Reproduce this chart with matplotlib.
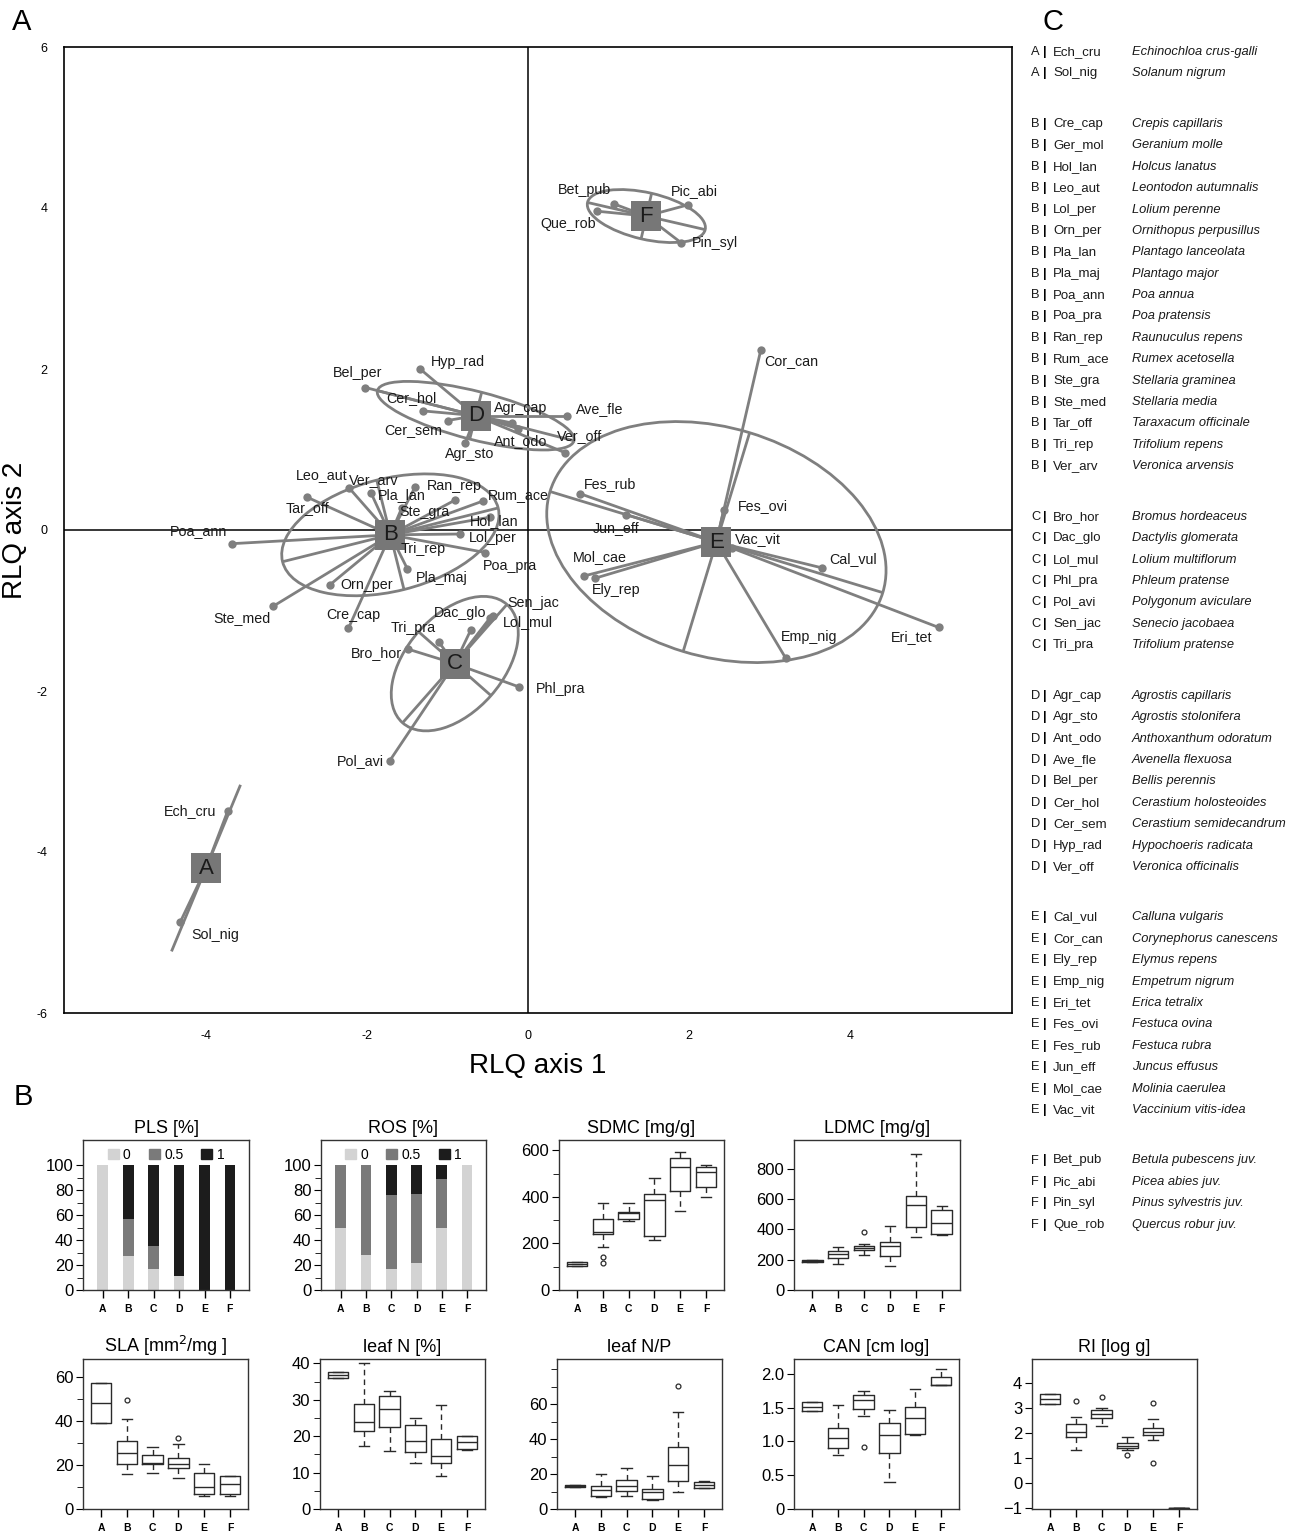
import matplotlib
matplotlib.use("Agg")
import matplotlib.pyplot as plt
from matplotlib.patches import Ellipse, Patch
import numpy as np

plt.rcParams['font.family'] = ['Liberation Sans', 'DejaVu Sans']

W, H = 1296, 1531

# ---------------- ordination data (panel A) ----------------
grp_names = ['A', 'B', 'C', 'D', 'E', 'F']
grp_x = [-4.00, -1.71, -0.91, -0.65, 2.34, 1.47]
grp_y = [-4.20, -0.06, -1.66, 1.42, -0.15, 3.90]
ell_a = [1.12, 1.38, 0.98, 1.26, 2.16, 0.75]
ell_b = [0.00, 0.70, 0.60, 0.30, 1.42, 0.29]
ell_angle = [67.5, 14.0, 48.6, -14.3, -16.9, -13.0]

spp_code = ['Ech_cru', 'Sol_nig',
            'Poa_ann', 'Ste_med', 'Tar_off', 'Leo_aut', 'Ver_arv', 'Pla_lan', 'Ran_rep',
            'Rum_ace', 'Ste_gra', 'Hol_lan', 'Lol_per', 'Tri_rep', 'Poa_pra', 'Pla_maj',
            'Orn_per', 'Cre_cap',
            'Bro_hor', 'Dac_glo', 'Lol_mul', 'Phl_pra', 'Pol_avi', 'Sen_jac', 'Tri_pra',
            'Agr_cap', 'Agr_sto', 'Ant_odo', 'Ave_fle', 'Bel_per', 'Cer_hol', 'Cer_sem',
            'Hyp_rad', 'Ver_off',
            'Cal_vul', 'Cor_can', 'Ely_rep', 'Emp_nig', 'Eri_tet', 'Fes_ovi', 'Fes_rub',
            'Jun_eff', 'Mol_cae', 'Vac_vit',
            'Bet_pub', 'Pic_abi', 'Pin_syl', 'Que_rob']
spp_group = (['A'] * 2 + ['B'] * 16 + ['C'] * 7 + ['D'] * 9 + ['E'] * 10 + ['F'] * 4)
spp_x = [-3.73, -4.32,
         -3.68, -3.17, -2.75, -2.22, -1.95, -1.40, -0.91,
         -0.56, -1.57, -0.47, -0.84, -1.59, -0.53, -1.50,
         -2.46, -2.23,
         -1.49, -0.71, -0.47, -0.11, -1.72, -0.43, -1.11,
         -0.20, -0.78, -0.13, 0.48, -2.02, -1.31, -1.00,
         -1.34, 0.46,
         3.65, 2.89, 0.83, 3.20, 5.10, 2.43, 0.65,
         1.22, 0.70, 2.53,
         1.07, 1.99, 1.90, 0.86]
spp_y = [-3.49, -4.87,
         -0.17, -0.95, 0.41, 0.52, 0.46, 0.54, 0.37,
         0.36, 0.27, 0.16, -0.05, -0.15, -0.28, -0.48,
         -0.68, -1.22,
         -1.48, -1.24, -1.09, -1.95, -2.87, -1.07, -1.39,
         1.33, 1.08, 1.26, 1.42, 1.77, 1.48, 1.36,
         2.00, 0.96,
         -0.47, 2.23, -0.60, -1.59, -1.21, 0.25, 0.45,
         0.19, -0.57, -0.22,
         4.05, 4.04, 3.57, 3.96]

# label offsets (pixels, styling only)
lab_off = {
    'Ech_cru': (-38, 0), 'Sol_nig': (35, -13),
    'Poa_ann': (-33, 13), 'Ste_med': (-31, -12), 'Tar_off': (1, -11), 'Leo_aut': (-28, 13),
    'Ver_arv': (3, 13), 'Pla_lan': (-14, -8), 'Ran_rep': (0, 14), 'Rum_ace': (35, 6),
    'Ste_gra': (23, -4), 'Hol_lan': (4, -4), 'Lol_per': (32, -4), 'Tri_rep': (23, -7),
    'Poa_pra': (25, -13), 'Pla_maj': (34, -9), 'Orn_per': (37, 0), 'Cre_cap': (5, 13),
    'Bro_hor': (-32, -4), 'Dac_glo': (-11, 17), 'Lol_mul': (38, -4), 'Phl_pra': (41, -2),
    'Pol_avi': (-29, 0), 'Sen_jac': (40, 13), 'Tri_pra': (-25, 14),
    'Agr_cap': (9, 15), 'Agr_sto': (4, -11), 'Ant_odo': (3, -12), 'Ave_fle': (33, 7),
    'Bel_per': (-8, 15), 'Cer_hol': (-11, 13), 'Cer_sem': (-34, -9), 'Hyp_rad': (38, 7),
    'Ver_off': (15, 17),
    'Cal_vul': (31, 9), 'Cor_can': (31, -11), 'Ely_rep': (21, -12), 'Emp_nig': (23, 21),
    'Eri_tet': (-27, -10), 'Fes_ovi': (39, 4), 'Fes_rub': (30, 10), 'Jun_eff': (-10, -13),
    'Mol_cae': (16, 19), 'Vac_vit': (26, 9),
    'Bet_pub': (-30, 14), 'Pic_abi': (6, 14), 'Pin_syl': (34, 0), 'Que_rob': (-29, -13),
}

# ---------------- species list (panel C) ----------------
list_group = (['A'] * 2 + ['B'] * 17 + ['C'] * 7 + ['D'] * 9 + ['E'] * 10 + ['F'] * 4)
list_code = ['Ech_cru', 'Sol_nig',
             'Cre_cap', 'Ger_mol', 'Hol_lan', 'Leo_aut', 'Lol_per', 'Orn_per', 'Pla_lan',
             'Pla_maj', 'Poa_ann', 'Poa_pra', 'Ran_rep', 'Rum_ace', 'Ste_gra', 'Ste_med',
             'Tar_off', 'Tri_rep', 'Ver_arv',
             'Bro_hor', 'Dac_glo', 'Lol_mul', 'Phl_pra', 'Pol_avi', 'Sen_jac', 'Tri_pra',
             'Agr_cap', 'Agr_sto', 'Ant_odo', 'Ave_fle', 'Bel_per', 'Cer_hol', 'Cer_sem',
             'Hyp_rad', 'Ver_off',
             'Cal_vul', 'Cor_can', 'Ely_rep', 'Emp_nig', 'Eri_tet', 'Fes_ovi', 'Fes_rub',
             'Jun_eff', 'Mol_cae', 'Vac_vit',
             'Bet_pub', 'Pic_abi', 'Pin_syl', 'Que_rob']
list_name = ['Echinochloa crus-galli', 'Solanum nigrum',
             'Crepis capillaris', 'Geranium molle', 'Holcus lanatus', 'Leontodon autumnalis',
             'Lolium perenne', 'Ornithopus perpusillus', 'Plantago lanceolata', 'Plantago major',
             'Poa annua', 'Poa pratensis', 'Raunuculus repens', 'Rumex acetosella',
             'Stellaria graminea', 'Stellaria media', 'Taraxacum officinale', 'Trifolium repens',
             'Veronica arvensis',
             'Bromus hordeaceus', 'Dactylis glomerata', 'Lolium multiflorum', 'Phleum pratense',
             'Polygonum aviculare', 'Senecio jacobaea', 'Trifolium pratense',
             'Agrostis capillaris', 'Agrostis stolonifera', 'Anthoxanthum odoratum',
             'Avenella flexuosa', 'Bellis perennis', 'Cerastium holosteoides',
             'Cerastium semidecandrum', 'Hypochoeris radicata', 'Veronica officinalis',
             'Calluna vulgaris', 'Corynephorus canescens', 'Elymus repens', 'Empetrum nigrum',
             'Erica tetralix', 'Festuca ovina', 'Festuca rubra', 'Juncus effusus',
             'Molinia caerulea', 'Vaccinium vitis-idea',
             'Betula pubescens juv.', 'Picea abies juv.', 'Pinus sylvestris juv.',
             'Quercus robur juv.']

# ---------------- trait data (panel B) ----------------
groups = ['A', 'B', 'C', 'D', 'E', 'F']
pls_0 = [100, 27, 17, 11, 0, 0]
pls_05 = [0, 30, 18, 0, 0, 0]
pls_1 = [0, 43, 65, 89, 100, 100]
ros_0 = [50, 28, 17, 22, 50, 100]
ros_05 = [50, 72, 59, 55, 39, 0]
ros_1 = [0, 0, 24, 23, 11, 0]

sdmc_lo = [103, 183, 296, 215, 339, 398]
sdmc_q1 = [103, 241, 304, 233, 425, 445]
sdmc_med = [112, 251, 329, 387, 530, 506]
sdmc_q3 = [122, 304, 335, 411, 569, 527]
sdmc_hi = [122, 375, 375, 483, 593, 536]
sdmc_out = [[], [143, 117], [], [], [], []]

ldmc_lo = [186, 172, 234, 161, 353, 366]
ldmc_q1 = [188, 209, 262, 224, 413, 370]
ldmc_med = [193, 237, 277, 290, 563, 441]
ldmc_q3 = [198, 256, 290, 320, 621, 531]
ldmc_hi = [200, 284, 305, 421, 897, 553]
ldmc_out = [[], [], [385], [], [], []]

sla_lo = [39.1, 15.8, 16.4, 14.0, 5.8, 5.8]
sla_q1 = [39.1, 20.3, 20.4, 18.4, 7.0, 6.6]
sla_med = [47.9, 25.5, 20.7, 20.3, 9.9, 11.5]
sla_q3 = [56.9, 30.7, 24.6, 23.1, 16.3, 15.1]
sla_hi = [56.9, 40.9, 28.2, 29.3, 20.4, 15.1]
sla_out = [[], [49.4], [], [32.2], [], []]

leafn_lo = [36.0, 17.3, 15.8, 12.7, 9.2, 16.3]
leafn_q1 = [36.0, 21.3, 22.5, 15.6, 12.7, 16.5]
leafn_med = [36.7, 23.8, 27.6, 18.7, 14.6, 18.3]
leafn_q3 = [37.5, 28.9, 31.1, 23.2, 19.1, 20.0]
leafn_hi = [37.5, 40.0, 32.4, 25.1, 28.5, 20.0]
leafn_out = [[], [], [], [], [], []]

np_lo = [12.5, 6.9, 7.6, 5.4, 9.6, 12.0]
np_q1 = [12.5, 7.3, 10.5, 5.9, 15.9, 12.0]
np_med = [13.2, 10.7, 13.0, 9.6, 25.4, 13.8]
np_q3 = [14.0, 13.0, 16.4, 11.5, 35.5, 15.5]
np_hi = [14.0, 19.9, 23.5, 18.9, 55.8, 16.2]
np_out = [[], [], [], [], [70.7], []]

can_lo = [1.446, 0.80, 1.38, 0.40, 1.088, 1.838]
can_q1 = [1.446, 0.897, 1.485, 0.833, 1.108, 1.838]
can_med = [1.515, 1.044, 1.62, 1.10, 1.348, 1.838]
can_q3 = [1.588, 1.196, 1.686, 1.27, 1.51, 1.96]
can_hi = [1.588, 1.54, 1.75, 1.46, 1.78, 2.07]
can_out = [[], [], [0.917], [], [], []]

ri_lo = [3.16, 1.32, 2.29, 1.33, 1.75, -1.0]
ri_q1 = [3.16, 1.87, 2.60, 1.43, 1.93, -1.0]
ri_med = [3.36, 2.07, 2.77, 1.51, 2.04, -1.0]
ri_q3 = [3.56, 2.36, 2.93, 1.60, 2.20, -1.0]
ri_hi = [3.56, 2.67, 3.03, 1.87, 2.56, -1.0]
ri_out = [[], [3.28], [3.44], [1.13], [3.2, 0.83], []]

# ---------------- figure ----------------
fig = plt.figure(figsize=(W / 100, H / 100), dpi=100)


def pax(l, t, r, b):
    return fig.add_axes([l / W, 1 - b / H, (r - l) / W, (b - t) / H])


GRAY = '#7f7f7f'
SQ = '#777777'

ax = pax(64, 47, 1012, 1013)
ax.set_xlim(-5.764, 6.012)
ax.set_ylim(-6, 6)
ax.axhline(0, color='black', lw=1.1, zorder=1)
ax.axvline(0, color='black', lw=1.1, zorder=1)

gx = dict(zip(grp_names, grp_x))
gy = dict(zip(grp_names, grp_y))

# ellipses and their axes
for g, cx, cy, a, b, ang in zip(grp_names, grp_x, grp_y, ell_a, ell_b, ell_angle):
    t = np.deg2rad(ang)
    ux, uy = np.cos(t), np.sin(t)
    vx, vy = -np.sin(t), np.cos(t)
    if b > 0:
        ax.add_patch(Ellipse((cx, cy), 2 * a, 2 * b, angle=ang, fill=False,
                             ec=GRAY, lw=2.0, zorder=2))
    ax.plot([cx - a * ux, cx + a * ux], [cy - a * uy, cy + a * uy], color=GRAY, lw=2.0,
            zorder=2, solid_capstyle='butt')
    if b > 0:
        ax.plot([cx - b * vx, cx + b * vx], [cy - b * vy, cy + b * vy], color=GRAY, lw=2.0,
                zorder=2, solid_capstyle='butt')

# species segments and points
for code, g, x, y in zip(spp_code, spp_group, spp_x, spp_y):
    ax.plot([gx[g], x], [gy[g], y], color=GRAY, lw=2.0, zorder=3)
ax.scatter(spp_x, spp_y, s=36, color=GRAY, zorder=4, linewidths=0)
for code, x, y in zip(spp_code, spp_x, spp_y):
    dx, dy = lab_off.get(code, (0, 10))
    ax.annotate(code, (x, y), xytext=(dx, dy), textcoords='offset pixels',
                ha='center', va='center', fontsize=10.3, color='#1a1a1a', zorder=6)

# group squares
ax.scatter(grp_x, grp_y, marker='s', s=21 ** 2, color=SQ, zorder=5, linewidths=0)
for g, x, y in zip(grp_names, grp_x, grp_y):
    ax.text(x, y, g, ha='center', va='center', fontsize=16, color='#1a1a1a', zorder=6)

ax.set_xticks([-4, -2, 0, 2, 4])
ax.set_xticklabels(['-4', '-2', '0', '2', '4'])
ax.set_yticks([-6, -4, -2, 0, 2, 4, 6])
ax.set_yticklabels(['-6', '-4', '-2', '0', '2', '4', '6'])
ax.tick_params(length=0, labelsize=9, pad=12)
for s in ax.spines.values():
    s.set_linewidth(1.2)
ax.set_xlabel('RLQ axis 1', fontsize=20, labelpad=8)
ax.set_ylabel('RLQ axis 2', fontsize=20, labelpad=6)

# panel letters
fig.text(12 / W, 1 - 22 / H, 'A', fontsize=21, va='center', ha='left')
fig.text(14 / W, 1 - 1097 / H, 'B', fontsize=21, va='center', ha='left')
fig.text(1042 / W, 1 - 22 / H, 'C', fontsize=21, va='center', ha='left')

# ---------------- panel C list ----------------
row = 0
prev = None
gi = -1
for g, code, name in zip(list_group, list_code, list_name):
    if g != prev:
        gi += 1
        prev = g
    y = 52 + 21.4 * row + gi * 29.1
    row += 1
    fy = 1 - y / H
    fig.text(1031 / W, fy, g, fontsize=9.3, va='center', ha='left', color='#1a1a1a')
    fig.text(1043 / W, fy, '|', fontsize=9.3, va='center', ha='left', fontweight='bold')
    fig.text(1053 / W, fy, code, fontsize=9.5, va='center', ha='left', color='#1a1a1a')
    fig.text(1132 / W, fy, name, fontsize=9.3, va='center', ha='left', style='italic',
             color='#1a1a1a')

# ---------------- panel B ----------------
pos = np.arange(1, 7)


def style_small(a, title):
    a.set_title(title, fontsize=13, pad=5)
    a.set_xticks(pos)
    a.set_xticklabels(groups, fontsize=7.5, fontweight='bold')
    a.tick_params(axis='x', length=6, width=1, pad=4)
    a.tick_params(axis='y', which='major', length=5, labelsize=12, pad=2)
    a.tick_params(axis='y', which='minor', length=4)
    for s in a.spines.values():
        s.set_linewidth(1.0)
        s.set_color('#333333')


def bars(a, v0, v05, v1, title):
    c0, c05, c1 = '#d3d3d3', '#7a7a7a', '#1c1c1c'
    a.bar(pos, v0, width=0.42, color=c0)
    a.bar(pos, v05, width=0.42, bottom=v0, color=c05)
    a.bar(pos, v1, width=0.42, bottom=np.add(v0, v05), color=c1)
    a.set_xlim(0.22, 6.75)
    a.set_ylim(0, 120)
    a.set_yticks([0, 20, 40, 60, 80, 100])
    a.set_yticks([10, 30, 50, 70, 90], minor=True)
    style_small(a, title)
    a.legend(handles=[Patch(color=c0), Patch(color=c05), Patch(color=c1)],
             labels=['0', '0.5', '1'], loc='upper center', ncol=3, frameon=False,
             fontsize=10, handlelength=0.8, handleheight=0.8, handletextpad=0.3,
             columnspacing=1.3, borderaxespad=0.15)


def boxes(a, lo, q1, med, q3, hi, out, title, ylim, ticks, minor=None, labels=None):
    stats = []
    for i in range(6):
        stats.append(dict(whislo=lo[i], q1=q1[i], med=med[i], q3=q3[i], whishi=hi[i],
                          fliers=out[i]))
    ec = '#2a2a2a'
    a.bxp(stats, positions=pos, widths=0.8, capwidths=0.4, showfliers=True,
          boxprops=dict(color=ec, lw=1.0),
          whiskerprops=dict(color=ec, lw=1.0, linestyle=(0, (4, 3))),
          capprops=dict(color=ec, lw=1.0),
          medianprops=dict(color=ec, lw=1.0),
          flierprops=dict(marker='o', markerfacecolor='none', markeredgecolor=ec,
                          markersize=3.5, markeredgewidth=0.9))
    a.set_xlim(0.3, 6.7)
    a.set_ylim(*ylim)
    a.set_yticks(ticks)
    if labels is not None:
        a.set_yticklabels(labels)
    if minor is not None:
        a.set_yticks(minor, minor=True)
    style_small(a, title)


cols = [83, 320, 558, 794, 1032]
r1 = (1140, 1290)
r2 = (1359, 1509)

a = pax(83, r1[0], 249, r1[1])
bars(a, pls_0, pls_05, pls_1, 'PLS [%]')
a = pax(321, r1[0], 486, r1[1])
bars(a, ros_0, ros_05, ros_1, 'ROS [%]')
a = pax(559, r1[0], 724, r1[1])
boxes(a, sdmc_lo, sdmc_q1, sdmc_med, sdmc_q3, sdmc_hi, sdmc_out, 'SDMC [mg/g]',
      (0, 645), [0, 200, 400, 600], [100, 300, 500])
a = pax(794, r1[0], 960, r1[1])
boxes(a, ldmc_lo, ldmc_q1, ldmc_med, ldmc_q3, ldmc_hi, ldmc_out, 'LDMC [mg/g]',
      (0, 990), [0, 200, 400, 600, 800])

a = pax(83, r2[0], 248, r2[1])
boxes(a, sla_lo, sla_q1, sla_med, sla_q3, sla_hi, sla_out, 'SLA [mm$^2$/mg ]',
      (0, 68), [0, 20, 40, 60], [10, 30, 50])
a = pax(320, r2[0], 485, r2[1])
boxes(a, leafn_lo, leafn_q1, leafn_med, leafn_q3, leafn_hi, leafn_out, 'leaf N [%]',
      (0, 41.2), [0, 10, 20, 30, 40], [5, 15, 25, 35])
a = pax(557, r2[0], 722, r2[1])
boxes(a, np_lo, np_q1, np_med, np_q3, np_hi, np_out, 'leaf N/P',
      (0, 86), [0, 20, 40, 60], [10, 30, 50, 70, 80])
a = pax(794, r2[0], 959, r2[1])
boxes(a, can_lo, can_q1, can_med, can_q3, can_hi, can_out, 'CAN [cm log]',
      (0, 2.22), [0, 0.5, 1.0, 1.5, 2.0], labels=['0', '0.5', '1.0', '1.5', '2.0'])
a = pax(1032, r2[0], 1197, r2[1])
boxes(a, ri_lo, ri_q1, ri_med, ri_q3, ri_hi, ri_out, 'RI [log g]',
      (-1.03, 4.97), [-1, 0, 1, 2, 3, 4])

fig.savefig('out.png', dpi=100)
